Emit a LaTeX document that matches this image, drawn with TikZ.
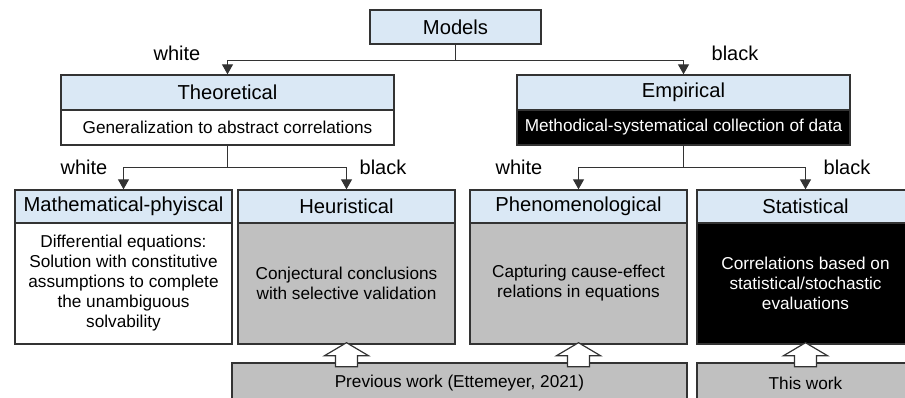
\documentclass[tikz,border=0pt]{standalone}
\usepackage{fontspec}
\setmainfont{Liberation Sans}
\usetikzlibrary{arrows.meta}
\definecolor{hdrblue}{HTML}{DAE8F5}
\definecolor{bodygray}{HTML}{C0C0C0}
\definecolor{linegray}{HTML}{333333}
\tikzset{
  hdr/.style={draw=linegray, line width=0.7pt, fill=hdrblue, inner sep=0pt, font=\fontsize{10.1}{12}\selectfont},
  desc/.style={draw=linegray, line width=0.7pt, inner sep=0pt, align=center, font=\fontsize{8.6}{10}\selectfont},
  lbl/.style={font=\fontsize{10}{12}\selectfont},
  arr/.style={draw=linegray, line width=0.65pt, -{Triangle[width=5.5pt,length=5pt]}},
  workarrow/.style={draw=linegray, line width=0.6pt, fill=white}
}
\begin{document}
\begin{tikzpicture}[x=0.5pt, y=-0.5pt]
    \useasboundingbox (0,0) rectangle (905,397);
    \clip (0,0) rectangle (905,397);
    % top
    \node [hdr, minimum width=85.5pt, minimum height=17pt] (models) at (455.5, 27) {Models};
    % second level
    \node [hdr, minimum width=166.5pt, minimum height=17.5pt] (theo) at (227.5, 92.5) {Theoretical};
    \node [desc, minimum width=166.5pt, minimum height=17.5pt] (theodesc) at (227.5, 127.5) {Generalization to abstract correlations};
    \node [hdr, minimum width=166.5pt, minimum height=17.5pt] (emp) at (683.5, 92.5) {Empirical};
    \node [desc, minimum width=166.5pt, minimum height=17.5pt, fill=black, text=white] (empdesc) at (683.5, 127.5) {Methodical-systematical collection of data};
    % third level
    \node [hdr, minimum width=108.5pt, minimum height=16.5pt] (math) at (123.5, 206.5) {Mathematical-phyiscal};
    \node [desc, minimum width=108.5pt, minimum height=60.5pt] (mathbody) at (123.5, 283.5) {Differential equations:\\Solution with constitutive\\assumptions to complete\\the unambiguous\\solvability};
    \node [hdr, minimum width=108.5pt, minimum height=16.5pt] (heur) at (346.5, 206.5) {Heuristical};
    \node [desc, minimum width=108.5pt, minimum height=60.5pt, fill=bodygray] (heurbody) at (346.5, 283.5) {Conjectural conclusions\\with selective validation};
    \node [hdr, minimum width=108.5pt, minimum height=16.5pt] (phen) at (578.5, 206.5) {Phenomenological};
    \node [desc, minimum width=108.5pt, minimum height=60.5pt, fill=bodygray] (phenbody) at (578.5, 283.5) {Capturing cause-effect\\relations in equations};
    \node [hdr, minimum width=108.5pt, minimum height=16.5pt] (stat) at (805.5, 206.5) {Statistical};
    \node [desc, minimum width=108.5pt, minimum height=60.5pt, fill=black, text=white] (statbody) at (805.5, 283.5) {Correlations based on\\statistical/stochastic\\evaluations};
    % bottom
    \node [desc, minimum width=227.5pt, minimum height=20pt, fill=bodygray] (prev) at (459.5, 383) {Previous work (Ettemeyer, 2021)};
    \node [desc, minimum width=108.5pt, minimum height=20pt, fill=bodygray] (this) at (805.5, 383) {This work};
    % connectors
    \draw [arr] (models.south) -- ++(0, 16) -| (theo.north);
    \draw [arr] (models.south) -- ++(0, 16) -| (emp.north);
    \draw [arr] (theodesc.south) -- ++(0, 22) -| (math.north);
    \draw [arr] (theodesc.south) -- ++(0, 22) -| (heur.north);
    \draw [arr] (empdesc.south) -- ++(0, 22) -| (phen.north);
    \draw [arr] (empdesc.south) -- ++(0, 22) -| (stat.north);
    \node [lbl] (wtheo) at (177, 53) {white};
    \node [lbl] (bemp) at (735, 53) {black};
    \node [lbl] (wmath) at (84, 167) {white};
    \node [lbl] (bheur) at (383, 167) {black};
    \node [lbl] (wphen) at (519, 167) {white};
    \node [lbl] (bstat) at (847, 167) {black};
    % hollow arrows
    \foreach \n in {heurbody, phenbody, statbody}
      \draw [workarrow] (\n.south) ++(-11, 22) -- ++(0, -11) -- ++(-11, 0) -- ++(22, -13) -- ++(22, 13) -- ++(-11, 0) -- ++(0, 11) -- cycle;
  \end{tikzpicture}
\end{document}
